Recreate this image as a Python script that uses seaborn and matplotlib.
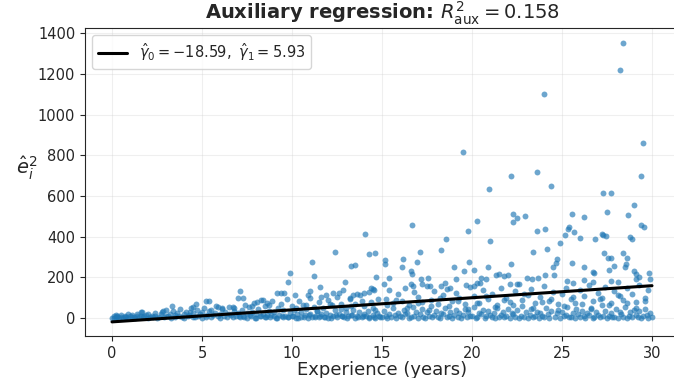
import numpy as np
import pandas as pd
import matplotlib
matplotlib.use("Agg")
import matplotlib.pyplot as plt
import seaborn as sns

# ---- auxiliary regression: squared residuals vs. experience ----
gamma0 = -18.59
gamma1 = 5.93
r2_aux = 0.158

# early career (0-2.5 years): tight band near zero
exp_a = [0.0, 0.1, 0.1, 0.2, 0.2, 0.3, 0.3, 0.4, 0.5, 0.5,
         0.6, 0.7, 0.7, 0.8, 0.9, 0.9, 1.0, 1.1, 1.1, 1.2,
         1.3, 1.4, 1.4, 1.5, 1.6, 1.6, 1.7, 1.8, 1.9, 2.0,
         2.0, 2.1, 2.2, 2.3, 2.4, 2.4, 2.5]
e2_a = [2, 8, 1, 5, 14, 3, 9, 0, 6, 17,
        2, 11, 4, 7, 19, 1, 9, 3, 13, 6,
        2, 22, 8, 5, 28, 11, 3, 9, 15, 1,
        20, 7, 12, 4, 25, 10, 2]

# 2.5-7 years
exp_b = [2.6, 2.7, 2.8, 2.9, 3.0, 3.0, 3.1, 3.2, 3.3, 3.4,
         3.5, 3.5, 3.6, 3.7, 3.8, 3.9, 4.0, 4.0, 4.1, 4.2,
         4.3, 4.4, 4.5, 4.5, 4.6, 4.7, 4.8, 4.9, 5.0, 5.0,
         5.1, 5.2, 5.3, 5.4, 5.5, 5.5, 5.6, 5.7, 5.8, 5.9,
         6.0, 6.0, 6.1, 6.2, 6.3, 6.4, 6.5, 6.5, 6.6, 6.7,
         6.8, 6.9, 7.0]
e2_b = [5, 18, 30, 3, 12, 40, 8, 22, 2, 35,
        15, 4, 27, 10, 45, 6, 19, 1, 32, 9,
        14, 48, 3, 24, 7, 38, 11, 20, 2, 28,
        50, 6, 16, 33, 4, 42, 13, 25, 60, 8,
        19, 2, 47, 11, 30, 5, 22, 55, 14, 3,
        36, 9, 26]

# 7-15 years
exp_c = [7.1, 7.2, 7.3, 7.4, 7.5, 7.5, 7.6, 7.7, 7.8, 7.9,
         8.0, 8.0, 8.1, 8.2, 8.3, 8.4, 8.5, 8.5, 8.6, 8.7,
         8.8, 8.9, 9.0, 9.0, 9.1, 9.2, 9.3, 9.4, 9.5, 9.5,
         9.6, 9.7, 9.8, 9.9, 10.0, 10.0, 10.1, 10.2, 10.3, 10.4,
         10.5, 10.5, 10.6, 10.7, 10.8, 10.9, 11.0, 11.0, 11.1, 11.2,
         11.3, 11.4, 11.5, 11.5, 11.6, 11.7, 11.8, 11.9, 12.0, 12.0,
         12.1, 12.2, 12.3, 12.4, 12.5, 12.5, 12.6, 12.7, 12.8, 12.9,
         13.0, 13.0, 13.1, 13.2, 13.3, 13.4, 13.5, 13.5, 13.6, 13.7,
         13.8, 13.9, 14.0, 14.0, 14.1, 14.2, 14.3, 14.4, 14.5, 14.5,
         14.6, 14.7, 14.8, 14.9]
e2_c = [4, 38, 12, 66, 2, 25, 54, 9, 31, 75,
        1, 18, 44, 8, 90, 22, 3, 60, 14, 35,
        6, 82, 11, 28, 2, 49, 16, 70, 5, 38,
        12, 95, 3, 24, 58, 8, 40, 1, 19, 85,
        30, 7, 65, 13, 45, 2, 100, 21, 5, 55,
        10, 34, 78, 3, 18, 48, 7, 26, 88, 1,
        15, 62, 9, 38, 4, 105, 22, 70, 12, 3,
        52, 28, 8, 92, 16, 41, 2, 67, 11, 30,
        115, 5, 20, 58, 9, 36, 3, 80, 14, 48,
        1, 26, 95, 7]

exp_c_low = [7.05, 7.35, 7.65, 7.95, 8.25, 8.55, 8.85, 9.15, 9.45, 9.75,
             10.05, 10.35, 10.65, 10.95, 11.25, 11.55, 11.85, 12.15, 12.45, 12.75,
             13.05, 13.35, 13.65, 13.95, 14.25, 14.55, 14.85]
e2_c_low = [8, 3, 14, 1, 10, 5, 17, 2, 9, 4,
            12, 1, 7, 15, 3, 11, 6, 2, 13, 8,
            1, 16, 4, 10, 2, 7, 12]

# 15-30 years: dense row close to zero
exp_d = [15.0, 15.2, 15.3, 15.5, 15.7, 15.8, 16.0, 16.1, 16.3, 16.5,
         16.6, 16.8, 17.0, 17.1, 17.3, 17.4, 17.6, 17.8, 17.9, 18.1,
         18.2, 18.4, 18.6, 18.7, 18.9, 19.0, 19.2, 19.4, 19.5, 19.7,
         19.9, 20.0, 20.2, 20.3, 20.5, 20.7, 20.8, 21.0, 21.1, 21.3,
         21.5, 21.6, 21.8, 21.9, 22.1, 22.3, 22.4, 22.6, 22.7, 22.9,
         23.1, 23.2, 23.4, 23.5, 23.7, 23.9, 24.0, 24.2, 24.3, 24.6,
         24.9, 25.1, 25.2, 25.4, 25.5, 25.7, 25.9, 26.0, 26.2, 26.3,
         26.5, 26.7, 26.8, 27.0, 27.1, 27.3, 27.5, 27.6, 27.8, 27.9,
         28.1, 28.3, 28.4, 28.6, 28.7, 28.9, 29.1, 29.2, 29.4, 29.5,
         29.7, 29.8, 30.0]
e2_d = [3, 11, 1, 7, 15, 2, 9, 4, 18, 1,
        6, 12, 2, 21, 5, 0, 10, 3, 14, 7,
        1, 19, 4, 9, 2, 13, 6, 1, 17, 3,
        8, 11, 0, 5, 22, 2, 9, 14, 4, 1,
        7, 16, 3, 10, 1, 20, 5, 2, 12, 6,
        0, 15, 3, 8, 1, 11, 4, 18, 2, 6,
        1, 9, 14, 3, 7, 1, 21, 5, 10, 2,
        13, 0, 6, 17, 3, 9, 1, 12, 4, 7,
        2, 19, 5, 1, 10, 3, 15, 6, 0, 8,
        13, 2, 4]

exp_d2 = [15.1, 15.4, 15.6, 15.9, 16.2, 16.4, 16.7, 16.9, 17.2, 17.5,
          17.7, 18.0, 18.3, 18.5, 18.8, 19.1, 19.3, 19.6, 19.8, 20.1,
          20.4, 20.6, 20.9, 21.2, 21.4, 21.7, 22.0, 22.2, 22.5, 22.8,
          23.0, 23.3, 23.6, 23.8, 24.1, 24.4, 24.7, 24.8, 25.0, 25.3,
          25.6, 25.8, 26.1, 26.4, 26.6, 26.9, 27.2, 27.4, 27.7, 28.0,
          28.2, 28.5, 28.8, 29.0, 29.3, 29.6, 29.9]
e2_d2 = [34, 22, 48, 27, 40, 25, 55, 30, 44, 28,
         60, 33, 24, 50, 29, 38, 26, 45, 31, 57,
         23, 42, 35, 27, 52, 30, 46, 25, 39, 58,
         28, 43, 32, 24, 49, 36, 26, 41, 30, 53,
         27, 45, 34, 23, 48, 29, 62, 37, 25, 44,
         31, 55, 28, 40, 33, 47, 26]

# 15-30 years: middle cloud
exp_m = [15.2, 15.4, 15.6, 15.9, 16.1, 16.3, 16.5, 16.8, 17.0, 17.2,
         17.5, 17.7, 17.9, 18.1, 18.4, 18.6, 18.9, 19.1, 19.3, 19.6,
         19.9, 20.1, 20.4, 20.6, 20.9, 21.1, 21.4, 21.6, 21.9, 22.1,
         22.4, 22.6, 22.8, 23.1, 23.3, 23.5, 23.8, 24.0, 24.3, 24.5,
         24.8, 25.0, 25.2, 25.5, 25.7, 26.0, 26.2, 26.5, 26.7, 27.0,
         27.2, 27.4, 27.7, 27.9, 28.2, 28.4, 28.6, 28.9, 29.1, 29.3,
         29.6, 29.8]
e2_m = [95, 140, 72, 118, 85, 150, 66, 128, 102, 78,
        160, 90, 135, 70, 112, 145, 82, 125, 98, 68,
        155, 108, 75, 138, 92, 120, 65, 148, 100, 80,
        132, 170, 88, 115, 142, 74, 105, 160, 86, 128,
        70, 118, 150, 95, 76, 140, 110, 165, 84, 125,
        98, 155, 72, 135, 108, 88, 148, 120, 80, 165,
        100, 138]

exp_m2 = [10.2, 10.8, 11.4, 12.1, 12.7, 13.3, 13.9, 14.6, 15.3, 15.8,
          16.4, 17.0, 17.6, 18.2, 18.7, 19.2, 19.8, 20.3, 20.8, 21.3,
          21.8, 22.3, 22.9, 23.4, 23.9, 24.4, 25.1, 25.6, 26.1, 26.6,
          27.1, 27.6, 28.1, 28.6, 29.1, 29.6]
e2_m2 = [48, 62, 35, 70, 44, 58, 82, 40, 66, 90,
         52, 76, 41, 98, 60, 85, 47, 72, 110, 55,
         88, 64, 120, 50, 78, 95, 58, 105, 68, 45,
         92, 62, 115, 74, 52, 84]

# larger squared residuals (experience, e^2)
spread_pts = [
    (1.65, 31), (2.85, 36), (3.35, 58), (4.33, 31), (4.52, 53), (4.69, 69),
    (5.2, 85), (5.39, 82), (5.9, 55), (6.1, 52), (6.7, 55), (6.75, 52),
    (6.98, 97), (7.11, 135), (7.26, 97), (7.8, 60), (8.05, 80), (8.4, 88),
    (8.6, 72), (8.7, 62), (9.18, 123), (9.39, 122), (9.55, 123), (9.78, 176),
    (9.87, 223), (10.17, 113), (10.87, 113), (11.0, 131), (11.13, 277),
    (11.22, 207), (11.56, 151), (11.6, 105), (11.9, 115), (12.3, 122),
    (12.39, 324), (12.6, 125), (12.83, 140), (12.96, 177), (13.2, 100),
    (13.3, 256), (13.4, 112), (13.5, 263), (13.6, 118), (14.0, 122),
    (14.07, 415), (14.3, 314), (14.3, 127), (14.4, 150), (14.5, 145),
    (14.55, 138), (14.6, 319), (14.68, 200),
    (15.1, 167), (15.15, 264), (15.18, 285), (15.37, 197), (16.09, 250),
    (16.19, 292), (16.6, 233), (16.6, 170), (16.65, 218), (16.67, 460),
    (16.7, 158), (16.96, 276), (17.09, 323), (17.17, 194), (17.2, 168),
    (17.54, 199), (17.65, 160), (18.25, 158), (18.26, 335), (18.5, 174),
    (18.57, 388), (18.8, 148), (19.0, 250), (19.1, 194), (19.5, 818),
    (19.57, 231), (19.65, 165), (19.78, 428), (19.85, 274), (20.1, 160),
    (20.13, 238), (20.3, 476), (20.3, 172), (20.45, 172), (20.5, 199),
    (20.8, 194), (20.89, 251), (20.94, 637), (21.0, 381), (21.33, 213),
    (21.48, 218), (21.76, 207), (22.0, 213), (22.1, 170), (22.17, 700),
    (22.17, 267), (22.3, 511), (22.3, 471), (22.5, 494), (22.5, 168),
    (22.94, 502), (23.05, 195), (23.33, 192), (23.37, 323), (23.61, 718),
    (23.61, 429), (23.67, 196), (23.98, 1102), (24.04, 440), (24.06, 210),
    (24.15, 338), (24.39, 650), (24.48, 250), (24.54, 213), (24.67, 269),
    (24.74, 289), (24.87, 371), (25.18, 409), (25.3, 180), (25.35, 437),
    (25.4, 447), (25.54, 512), (25.56, 273), (25.6, 172), (25.68, 424),
    (26.0, 394), (26.2, 187), (26.24, 497), (26.24, 251), (26.7, 225),
    (26.7, 176), (26.8, 222), (26.85, 388), (27.2, 415), (27.28, 617),
    (27.3, 407), (27.32, 322), (27.46, 405), (27.5, 522), (27.56, 297),
    (27.63, 236), (27.7, 180), (27.74, 617), (27.74, 297), (27.9, 258),
    (28.1, 178), (28.24, 1222), (28.37, 1351), (28.37, 319), (28.5, 250),
    (28.54, 266), (28.63, 294), (28.65, 506), (28.78, 399), (28.87, 388),
    (29.0, 233), (29.02, 558), (29.1, 215), (29.1, 190), (29.3, 200),
    (29.37, 698), (29.37, 458), (29.52, 859), (29.56, 447), (29.85, 220),
    (29.9, 190),
]

exp_all = (exp_a + exp_b + exp_c + exp_c_low + exp_d + exp_d2 + exp_m + exp_m2
           + [p[0] for p in spread_pts])
e2_all = (e2_a + e2_b + e2_c + e2_c_low + e2_d + e2_d2 + e2_m + e2_m2
          + [p[1] for p in spread_pts])
df = pd.DataFrame({"experience": exp_all, "e2": e2_all})

x_line = np.array([0.0, 30.0])
line_df = pd.DataFrame({"experience": x_line, "fit": gamma0 + gamma1 * x_line})

sns.set_style("ticks")
fig = plt.figure(figsize=(6.74, 3.78), dpi=100)
ax = fig.add_axes([85 / 674, 42 / 378, (679 - 85) / 674, (350 - 42) / 378])

sns.scatterplot(data=df, x="experience", y="e2", ax=ax, s=18,
                color="#1f77b4", alpha=0.65, linewidth=0, zorder=2)
sns.lineplot(data=line_df, x="experience", y="fit", ax=ax, color="black",
             linewidth=2.2, zorder=3,
             label=rf"$\hat{{\gamma}}_0 = {gamma0:.2f},\ \hat{{\gamma}}_1 = {gamma1:.2f}$")

ax.set_xlim(-1.5, 31.5)
ax.set_ylim(-88, 1426)
ax.set_xticks([0, 5, 10, 15, 20, 25, 30])
ax.set_yticks([0, 200, 400, 600, 800, 1000, 1200, 1400])
ax.tick_params(labelsize=10.5)
ax.grid(True, alpha=0.3)
ax.spines["right"].set_visible(False)

ax.set_title(rf"Auxiliary regression: $R^2_{{\mathrm{{aux}}}} = {r2_aux:.3f}$",
             fontsize=14, fontweight="bold")
ax.set_xlabel("Experience (years)", fontsize=13, labelpad=0)
ax.set_ylabel(r"$\hat{e}_i^2$", fontsize=14, rotation=0, labelpad=8)
ax.legend(loc="upper left", fontsize=10.5, frameon=True)

fig.savefig("out.png", dpi=100)
